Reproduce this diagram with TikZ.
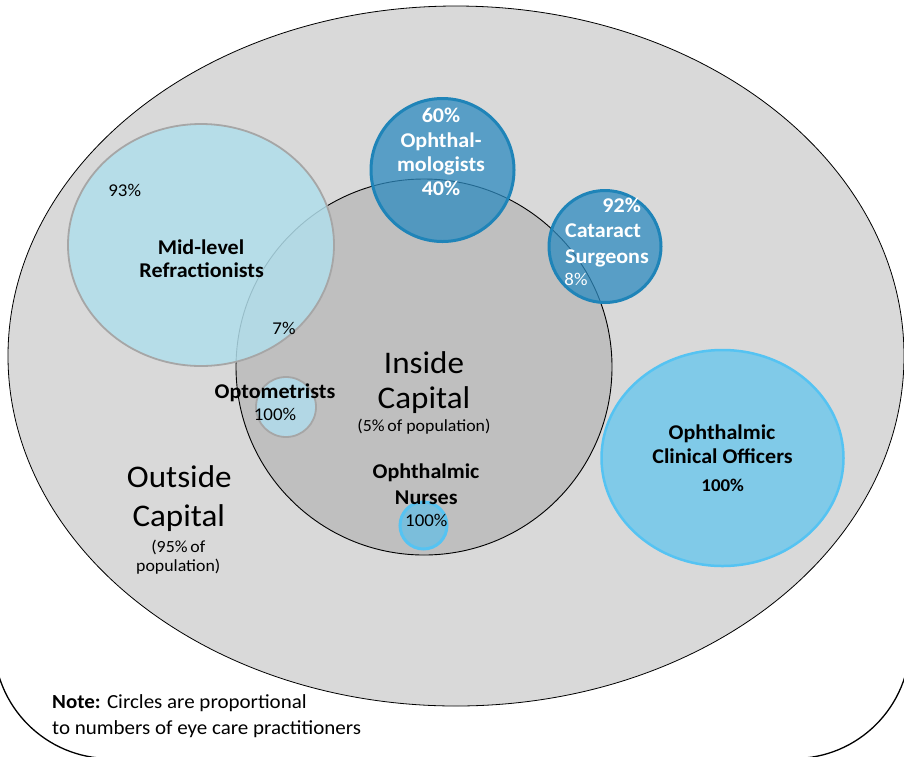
\documentclass[tikz,border=0pt]{standalone}
\usepackage{fontspec}
\setmainfont{Carlito}[FakeStretch=1.05]

\definecolor{outgray}{HTML}{D9D9D9}
\definecolor{ingray}{HTML}{BFBFBF}
\definecolor{refblue}{HTML}{B1DEEB}
\definecolor{ringgray}{HTML}{A6A6A6}
\definecolor{ophblue}{HTML}{2E8BC0}
\definecolor{ophring}{HTML}{1F84B8}
\definecolor{cooblue}{HTML}{80CAE8}
\definecolor{cooring}{HTML}{55C3F2}
\definecolor{optblue}{HTML}{B2D7E5}
\definecolor{nurblue}{HTML}{7BBEDB}

\tikzset{
  lab/.style={font=\fontsize{21}{25}\selectfont\bfseries, anchor=base, inner sep=0pt},
  pct/.style={font=\fontsize{18}{22}\selectfont, anchor=base, inner sep=0pt},
  big/.style={font=\fontsize{31.5}{36}\selectfont, anchor=base, inner sep=0pt},
  small/.style={font=\fontsize{17}{20}\selectfont, anchor=base, inner sep=0pt},
  note/.style={font=\fontsize{20}{24}\selectfont, anchor=base west, inner sep=0pt},
}

\begin{document}
\begin{tikzpicture}[x=1pt,y=-1pt]
		\useasboundingbox (0,0) rectangle (904,756);
		\clip (0,0) rectangle (904,756);
		% frame and the two regions
		\draw[line width=1.3pt, fill=white, rounded corners=116pt] (-6,-300) rectangle (910,758.5);
		\draw[line width=0.8pt, fill=outgray] (456,356) ellipse [x radius=448pt, y radius=350pt];
		\draw[line width=0.9pt, fill=ingray] (424,367) circle [radius=188pt];
		% practitioner circles
		\draw[line width=1.8pt, draw=ringgray, fill=refblue, fill opacity=0.85] (201,245) ellipse [x radius=133pt, y radius=121pt];
		\draw[line width=3pt, draw=ophring, fill=ophblue, fill opacity=0.75] (442.5,170) circle [radius=71.5pt];
		\draw[line width=3pt, draw=ophring, fill=ophblue, fill opacity=0.75] (605,246.5) circle [radius=56pt];
		\draw[line width=2.5pt, draw=cooring, fill=cooblue] (722.5,458) ellipse [x radius=121pt, y radius=108pt];
		\draw[line width=1.8pt, draw=ringgray, fill=optblue] (286,407) circle [radius=30pt];
		\draw[line width=3pt, draw=cooring, fill=nurblue] (423.5,525.5) circle [radius=23.5pt];
		% Ophthalmologists
		\node[lab, white] (oph60) at (441,122) {60\%};
		\node[lab, white] (oph1) at (441,147.3) {Ophthal-};
		\node[lab, white] (oph2) at (441,171.7) {mologists};
		\node[lab, white] (oph40) at (441,195) {40\%};
		% Cataract Surgeons
		\node[lab, white] (cat92) at (621.7,212) {92\%};
		\node[lab, white] (cat1) at (603,237.3) {Cataract};
		\node[lab, white] (cat2) at (607,263) {Surgeons};
		\node[pct, white] (cat8) at (576,285) {8\%};
		% Mid-level Refractionists
		\node[pct] (ref93) at (124.7,196.7) {93\%};
		\node[lab] (ref1) at (201,254) {Mid-level};
		\node[lab] (ref2) at (201.7,277.7) {Refractionists};
		\node[pct] (ref7) at (284,334) {7\%};
		% Inside Capital
		\node[big] (in1) at (424,373.3) {Inside};
		\node[big] (in2) at (424,408.3) {Capital};
		\node[small] (in3) at (424,431) {(5\%\,of population)};
		% Optometrists
		\node[lab] (opt1) at (275,398.3) {Optometrists};
		\node[pct] (opt2) at (275,420) {100\%};
		% Ophthalmic Nurses
		\node[lab] (nur1) at (426,478.3) {Ophthalmic};
		\node[lab] (nur2) at (426.3,504) {Nurses};
		\node[pct] (nur3) at (426.3,526.7) {100\%};
		% Ophthalmic Clinical Officers
		\node[lab] (coo1) at (722,439.3) {Ophthalmic};
		\node[lab] (coo2) at (722.5,463.3) {Clinical Officers};
		\node[pct, font=\fontsize{18}{22}\selectfont\bfseries] (coo3) at (722.7,491.7) {100\%};
		% Outside Capital
		\node[big] (out1) at (179.3,487.3) {Outside};
		\node[big] (out2) at (178.8,526) {Capital};
		\node[small] (out3) at (178.3,552.7) {(95\%\,of};
		\node[small] (out4) at (178.3,571.7) {population)};
		% note
		\node[note] (note1) at (52,708.3) {\textbf{Note:} Circles are proportional};
		\node[note] (note2) at (52,734) {to numbers of eye care practitioners};
\end{tikzpicture}
\end{document}
